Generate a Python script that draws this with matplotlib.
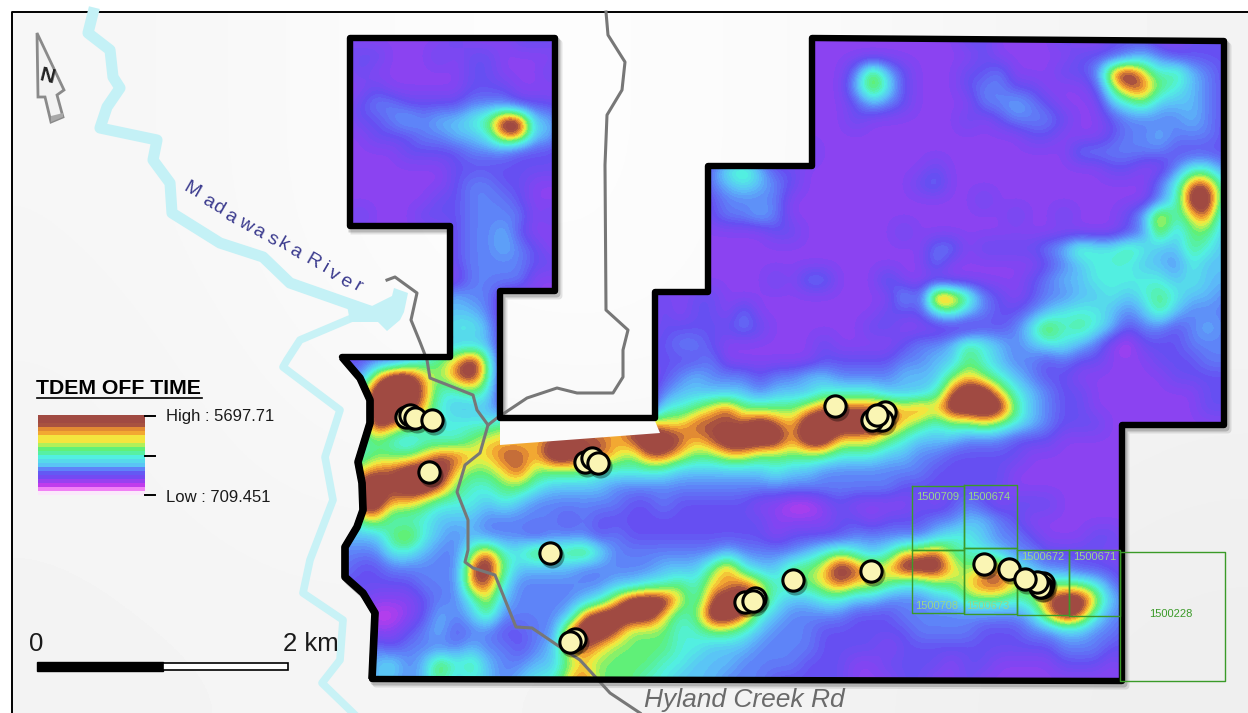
#!/usr/bin/env python
import numpy as np
import matplotlib
matplotlib.use('Agg')
import matplotlib.pyplot as plt
from matplotlib.colors import LinearSegmentedColormap
from matplotlib.patches import Polygon, Rectangle

# survey grid, one row per 16 px from y=40, columns from x=344
# 0 magenta .. 4 light blue .. 6 green .. 7 yellow .. 9 brown
gridRows = [
    '21111112 11122211 11111111 11111111 11111112 21111211 22211222',
    '12211121 22111121 11111111 11111111 11111111 21111122 23432222',
    '12111111 22111211 11111111 11111111 37421112 23111223 89756432',
    '11211111 22211112 11111111 11111111 47521112 33221112 68865432',
    '12332222 33322211 11111111 11112111 24321111 33432111 45644432',
    '12234344 56994411 11111111 11111111 21111112 12333211 23333432',
    '11222334 45884411 11111111 11111111 11111111 11122111 23343332',
    '11112222 33322211 11111111 11111211 11111111 11111133 33332222',
    '11111112 22222222 11111113 56422111 11111211 11111111 22113553',
    '11111112 33221111 11111113 45432111 11112311 11111111 11135885',
    '11111122 33321111 11111112 33331111 11111111 21111111 11135995',
    '12111222 33331211 11111112 33431111 11111111 11211211 12485784',
    '11111112 33421111 11111111 11122111 11121111 11111111 12374664',
    '11111112 33432111 11111111 11111111 11111331 22223465 56544654',
    '21111112 33332211 11111111 11111111 11111311 11112345 55443544',
    '21111211 33331111 11111111 11121331 11311111 11123445 55554544',
    '11111334 33111111 11112122 11111111 11142986 32123344 54565443',
    '11111344 43111111 11112122 13111111 11222564 32234555 43464333',
    '11112345 54111111 11112222 23211111 12211111 22357565 42332343',
    '11112344 44111111 11122332 11111121 11123346 54345543 10222333',
    '22334567 96111111 11122223 11111122 22233446 54332322 11122233',
    '33799768 96111111 11112343 33233443 33344467 65432211 11112222',
    '36999855 65111111 11113444 44344455 55444589 97543221 11111122',
    '45999754 44222222 11115567 86666788 88878799 99643221 11111122',
    '55987655 55677777 77887788 88987999 99876566 76543222 11111111',
    '55654555 67777898 87899878 99997997 77654443 33222111 11111111',
    '55666788 77887998 87688766 77666665 55443322 22211111 11111111',
    '57889997 66786666 55555444 44454433 33333222 22111111 11111111',
    '69989986 55665444 43333333 33333333 33322222 22111111 11111111',
    '69977655 54543333 33223222 22110012 11112123 21222111 11111111',
    '46755544 43333323 22222222 22211112 21222334 43211111 11211111',
    '44467543 43332333 23222222 22212222 33333455 43321112 21111111',
    '33355433 68557667 53333333 43333456 54577865 54332222 12111111',
    '32233333 89644443 33334446 85446679 87799976 78543322 21111111',
    '22222333 88533333 34455657 78756678 77655667 88766665 32111122',
    '12111233 57433334 57999758 99754455 44333446 66568997 43222211',
    '11001243 46333348 99997569 98543333 22233333 33347985 33222111',
    '12112342 33223389 98666556 65433322 22223333 22233443 32222211',
    '22323333 43323478 76666554 44333322 22122222 22222333 22211111',
    '33453475 64334467 66665544 43333222 11222212 21111222 12111111',
    '33443464 54345578 66655444 33322222 11122112 11111111 11111111',
]
gridX0, gridY0, gridStep = 344, 40, 16

backgroundShade = [
    [0.965, 0.975, 0.990, 0.990, 0.980, 0.965, 0.955],
    [0.965, 0.975, 0.990, 0.990, 0.980, 0.965, 0.955],
    [0.960, 0.970, 0.980, 0.985, 0.975, 0.960, 0.950],
    [0.958, 0.965, 0.965, 0.965, 0.958, 0.950, 0.940],
    [0.955, 0.958, 0.958, 0.955, 0.950, 0.940, 0.935],
]

boundaryX = [350, 555, 555, 500, 500, 655, 655, 708, 708, 812, 812, 1224, 1224, 1122, 1122, 372,
             375, 363, 345, 345, 357, 363, 362, 358, 370, 370, 360, 342, 450, 450, 350]
boundaryY = [38, 38, 291, 291, 418, 418, 292, 292, 166, 166, 38, 41, 425, 425, 681, 679,
             613, 593, 577, 547, 527, 510, 483, 462, 423, 400, 378, 357, 357, 226, 226]
westEdgeX = [372, 375, 363, 345, 345, 357, 363, 362, 358, 370, 370, 360, 342]
westEdgeY = [679, 613, 593, 577, 547, 527, 510, 483, 462, 423, 400, 378, 357]
gapX = [500, 655, 660, 500]
gapY = [421, 421, 433, 445]

riverUpperX = [93, 88, 110, 113, 120, 107, 100, 157, 153, 170, 172, 220, 263, 290, 347, 367]
riverUpperY = [13, 33, 50, 77, 88, 107, 128, 140, 160, 183, 213, 243, 257, 283, 303, 310]
riverLowerX = [352, 300, 287, 283, 340, 325, 333, 310, 303, 343, 340, 322, 353]
riverLowerY = [318, 340, 360, 367, 410, 457, 500, 560, 593, 620, 660, 683, 713]
mouthX = [347, 372, 392, 394, 408, 404, 400, 387, 378, 368, 350]
mouthY = [305, 306, 296, 288, 293, 312, 320, 331, 322, 322, 322]

roadX = [606, 608, 625, 622, 607, 605, 606, 628, 623, 623, 613, 577, 557, 527, 497, 488, 480, 465,
         457, 468, 468, 465, 473, 495, 516, 532, 560, 580, 610, 640]
roadY = [12, 35, 62, 90, 115, 165, 310, 330, 350, 377, 393, 393, 388, 398, 418, 425, 453, 465,
         492, 520, 550, 562, 568, 575, 627, 628, 647, 660, 693, 713]
branchX = [387, 395, 417, 411, 420, 427, 430, 473, 477, 488]
branchY = [280, 277, 293, 320, 342, 360, 378, 395, 410, 425]

siteX = [406, 410, 415, 432, 429, 585, 592, 598, 550, 575, 570, 745, 755, 753, 793, 835, 885, 882,
         872, 877, 871, 984, 1009, 1043, 1042, 1040, 1037, 1025]
siteY = [417, 415, 418, 420, 472, 462, 458, 463, 553, 639, 642, 602, 598, 601, 580, 406, 412, 420,
         420, 415, 571, 564, 569, 583, 587, 587, 582, 579]

claimNames = ['1500709', '1500674', '1500708', '1500673', '1500672', '1500671', '1500228']
claimLeft = [912, 964, 912, 964, 1017, 1069, 1120]
claimTop = [486, 485, 550, 548, 550, 550, 552]
claimRight = [964, 1017, 964, 1017, 1069, 1120, 1225]
claimBottom = [550, 548, 613, 614, 615, 616, 681]
claimLabelX = [938, 989, 937, 988, 1043, 1095, 1171]
claimLabelY = [497, 497, 606, 606, 557, 557, 614]

riverLetters = list('MadawaskaRiver')
riverLetterX = [192, 208, 218, 230, 245, 258, 272, 283, 295, 313, 325, 333, 345, 358]
riverLetterY = [190, 202, 208, 217, 225, 232, 240, 245, 252, 262, 268, 275, 282, 287]

legendLevels = [9, 9, 7.9, 7.5, 7.2, 6.8, 6.8, 6.4, 6, 5.6, 5, 4.5, 4, 3, 2.2, 1.6, 0.8, 0.2, -0.5, -1]
highLabel = 'High : 5697.71'
lowLabel = 'Low : 709.451'

plt.rcParams['font.family'] = ['Liberation Sans', 'DejaVu Sans']

levels = np.array([list(''.join(r.split())) for r in gridRows]).astype(float)

stops = [(-1, '#fbe8fb'), (-0.5, '#f070f5'), (0, '#c43cec'), (1, '#8644f2'), (2, '#6650f2'), (3, '#5f82f8'),
         (4, '#5cc0f8'), (5, '#52f2e0'), (6, '#5cf07a'), (6.8, '#f4f040'), (7.4, '#f29a30'),
         (8.0, '#a04a42'), (9, '#a04a42')]
lo, hi = stops[0][0], stops[-1][0]
cmap = LinearSegmentedColormap.from_list('tdem', [((v - lo) / (hi - lo), c) for v, c in stops], N=48)

figure = plt.figure(figsize=(12.48, 7.13), dpi=100, facecolor='white')
axes = figure.add_axes([0, 0, 1, 1])
axes.set_xlim(0, 1248)
axes.set_ylim(713, 0)
axes.axis('off')

# page background
axes.imshow(backgroundShade, cmap='gray', vmin=0, vmax=1, interpolation='bicubic', aspect='auto',
            extent=(12, 1248, 713, 12), zorder=1)
axes.plot([12, 12, 1248], [713, 12, 12], color='black', lw=1.4, zorder=1.5)

# water
axes.plot(riverUpperX, riverUpperY, color='#c4f1f6', lw=8, solid_joinstyle='round', zorder=2)
axes.plot(riverLowerX, riverLowerY, color='#c8f2f6', lw=5.5, solid_joinstyle='round', zorder=2)
axes.add_patch(Polygon(np.column_stack([mouthX, mouthY]), fc='#c4f1f6', ec='none', zorder=2))

# boundary shadow
for offset, alpha in [(5, 0.10), (3, 0.18)]:
    axes.plot(np.array(boundaryX) + offset - 1, np.array(boundaryY) + offset, color='black', lw=5, alpha=alpha, zorder=3)

image = axes.imshow(levels, cmap=cmap, vmin=lo, vmax=hi, interpolation='bicubic', zorder=4, aspect='auto',
                    extent=(gridX0 - gridStep / 2, gridX0 + gridStep * (levels.shape[1] - 0.5),
                            gridY0 + gridStep * (levels.shape[0] - 0.5), gridY0 - gridStep / 2))
outline = Polygon(np.column_stack([boundaryX, boundaryY]), closed=True, transform=axes.transData)
image.set_clip_path(outline)
axes.add_patch(Polygon(np.column_stack([gapX, gapY]), fc='#fbfbfb', ec='none', zorder=5))

# roads
axes.plot(roadX, roadY, color='#777777', lw=2.2, solid_joinstyle='round', zorder=6)
axes.plot(branchX, branchY, color='#777777', lw=2.2, solid_joinstyle='round', zorder=6)

axes.add_patch(Polygon(np.column_stack([boundaryX, boundaryY]), closed=True, fc='none', ec='black', lw=4.6,
                       joinstyle='round', zorder=7))
axes.plot(westEdgeX, westEdgeY, color='black', lw=5.5, solid_joinstyle='round', solid_capstyle='butt', zorder=7)

# claims
for name, l, t, r, b, lx, ly in zip(claimNames, claimLeft, claimTop, claimRight, claimBottom, claimLabelX, claimLabelY):
    axes.plot([l, r, r, l, l], [t, t, b, b, t], color='#3a9a28', lw=1.0, zorder=8)
    color = '#3a9a28' if name == '1500228' else '#9ad68a'
    axes.text(lx, ly, name, color=color, fontsize=8, ha='center', va='center', zorder=8)

# drill sites
axes.scatter(np.array(siteX) + 2, np.array(siteY) + 3, s=300, color='black', alpha=0.35, lw=0, zorder=9)
axes.scatter(siteX, siteY, s=235, facecolor='#faf5b4', edgecolor='black', lw=2.2, zorder=10)

# labels
for letter, x, y in zip(riverLetters, riverLetterX, riverLetterY):
    axes.text(x, y, letter, color='#3b3b8e', fontsize=14, rotation=-30, ha='center', va='center',
              rotation_mode='anchor', zorder=11)
axes.text(644, 700, 'Hyland Creek Rd', color='#6a6a6a', fontsize=19, style='italic', ha='left', va='center', zorder=11)

# legend
axes.text(36, 389, 'TDEM OFF TIME', color='black', fontsize=15.3, fontweight='bold', ha='left', va='center', zorder=11)
axes.plot([37, 202], [398, 398], color='black', lw=1.2, zorder=11)
axes.imshow(np.array(legendLevels).reshape(-1, 1), cmap=cmap, vmin=lo, vmax=hi, interpolation='nearest', aspect='auto',
            extent=(38, 145, 495, 415), zorder=11)
for tickY in [416, 456, 495]:
    axes.plot([145, 155], [tickY, tickY], color='black', lw=1.4, zorder=11)
axes.text(166, 417, highLabel, fontsize=12, ha='left', va='center', color='#1a1a1a', zorder=11)
axes.text(166, 497, lowLabel, fontsize=12, ha='left', va='center', color='#1a1a1a', zorder=11)

# scale bar
axes.add_patch(Rectangle((37, 662), 126, 9, fc='black', ec='black', lw=1, zorder=11))
axes.add_patch(Rectangle((163, 663), 125, 7, fc='white', ec='black', lw=1.2, zorder=11))
axes.text(36, 644, '0', fontsize=18.5, ha='center', va='center', color='#1a1a1a', zorder=11)
axes.text(339, 644, '2 km', fontsize=18.5, ha='right', va='center', color='#1a1a1a', zorder=11)

# north arrow
arrowX = [37, 64, 57, 63, 51, 45, 38]
arrowY = [33, 90, 95, 117, 122, 97, 97]
axes.add_patch(Polygon(np.column_stack([arrowX, arrowY]), fc='#f2f2f2', ec='#8a8a8a', lw=2.0, zorder=11))
axes.add_patch(Polygon(np.column_stack([[51, 63, 63, 51], [116, 113, 117, 122]]), fc='#a8a8a8', ec='none', zorder=12))
axes.text(47, 76, 'N', fontsize=15, fontweight='bold', rotation=-14, ha='center', va='center', color='#222222', zorder=12)

figure.savefig('out.png', dpi=100)
